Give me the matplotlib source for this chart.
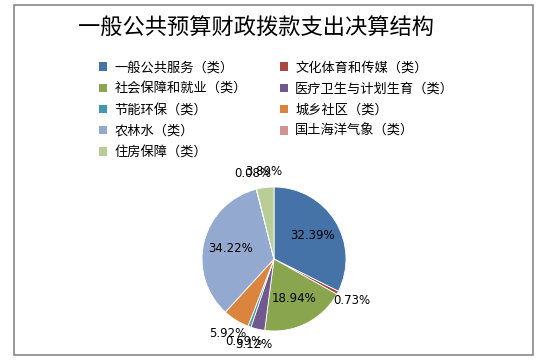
import numpy as np
import matplotlib.pyplot as plt
import matplotlib as mpl
from matplotlib.patches import Rectangle

plt.rcParams['font.family'] = ['Noto Sans CJK SC', 'DejaVu Sans']

title = "一般公共预算财政拨款支出决算结构"
categories = ["一般公共服务（类）", "文化体育和传媒（类）", "社会保障和就业（类）",
              "医疗卫生与计划生育（类）", "节能环保（类）", "城乡社区（类）",
              "农林水（类）", "国土海洋气象（类）", "住房保障（类）"]
shares = [32.39, 0.73, 18.94, 3.12, 0.69, 5.92, 34.22, 0.08, 3.89]
colors = ["#4572A7", "#AA4643", "#89A54E", "#71588F", "#4198AF",
          "#DB843D", "#93A9CF", "#D19392", "#B9CD96"]

fig = plt.figure(figsize=(5.51, 3.63), dpi=100)
fig.patches.append(Rectangle((14/551, 1 - 355/363), (533-14)/551, (355-5)/363,
                             transform=fig.transFigure, fill=False,
                             edgecolor="#888888", linewidth=1.2))

fig.text(256/551, 1 - 28/363, title, ha="center", va="center", fontsize=16, color="black")

# pie: center ~ (274, 259) px, radius ~ 72 px
cx, cy, r = 274, 259, 72
ax = fig.add_axes([(cx - r)/551, (363 - cy - r)/363, 2*r/551, 2*r/363])
wedges, _ = ax.pie(shares, colors=colors, startangle=90, counterclock=False,
                   wedgeprops=dict(edgecolor="white", linewidth=0.6))
ax.set_xlim(-1, 1)
ax.set_ylim(-1, 1)
ax.set_aspect("auto")

for w, v in zip(wedges, shares):
    mid = np.deg2rad((w.theta1 + w.theta2) / 2)
    d = 0.62 if v >= 10 else 1.22
    ax.text(d*np.cos(mid), d*np.sin(mid), f"{v:.2f}%", ha="center", va="center",
            fontsize=8.5, family="DejaVu Sans", clip_on=False)

# legend filled row by row like the original
order = [0, 2, 4, 6, 8, 1, 3, 5, 7]
leg = fig.legend([wedges[i] for i in order], [categories[i] for i in order],
                 ncol=2, loc="upper left", bbox_to_anchor=(94/551, 1 - 56/363),
                 frameon=False, fontsize=9.5, handlelength=0.6, handleheight=0.6,
                 handletextpad=0.55, columnspacing=2.5, labelspacing=0.62,
                 borderaxespad=0)
for h in leg.legend_handles:
    h.set_edgecolor("none")

fig.savefig("out.png", dpi=100)
